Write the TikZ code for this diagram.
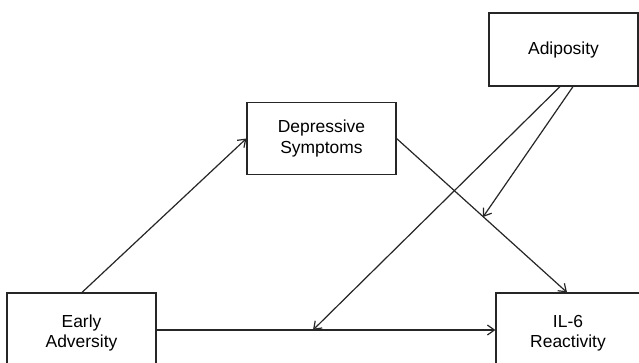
\documentclass[tikz,border=0pt]{standalone}
\usepackage{fontspec}
\setmainfont{Liberation Sans}
\usetikzlibrary{arrows.meta}
\begin{document}
\begin{tikzpicture}[x=1bp,y=-1bp,
  box/.style={draw=black!85, line width=1.2bp, rectangle, inner sep=0pt,
    align=center, font=\fontsize{17.5}{21}\selectfont},
  arr/.style={draw=black!85, line width=1.2bp, -{Straight Barb[length=7bp,width=10bp,line width=1.2bp]}}]
\useasboundingbox (0,0) rectangle (639,362);
\fill[white] (0,0) rectangle (639,362);
\node[box, minimum width=149bp, minimum height=80bp] (ea) at (81.5,333) {Early\\[-0.5bp]Adversity};
\node[box, minimum width=144bp, minimum height=80bp] (il) at (568,333) {IL-6\\[-0.5bp]Reactivity};
\node[box, minimum width=149bp, minimum height=72bp] (dep) at (321.5,138.5) {Depressive\\[0.5bp]Symptoms};
\node[box, minimum width=149bp, minimum height=73bp] (ad) at (563.5,49.5) {Adiposity};
\coordinate (m1) at (313,330);
\coordinate (m2) at (483,217);
\draw[arr] ([xshift=0.5bp]ea.north) -- (dep.west);
\draw[arr] (dep.east) -- ([xshift=-1bp]il.north);
\draw[arr] ([yshift=3bp]ea.east) -- ([yshift=3bp]il.west);
\draw[arr] ([xshift=-3.5bp]ad.south) -- (m1);
\draw[arr] ([xshift=9.5bp]ad.south) -- (m2);
\end{tikzpicture}
\end{document}
